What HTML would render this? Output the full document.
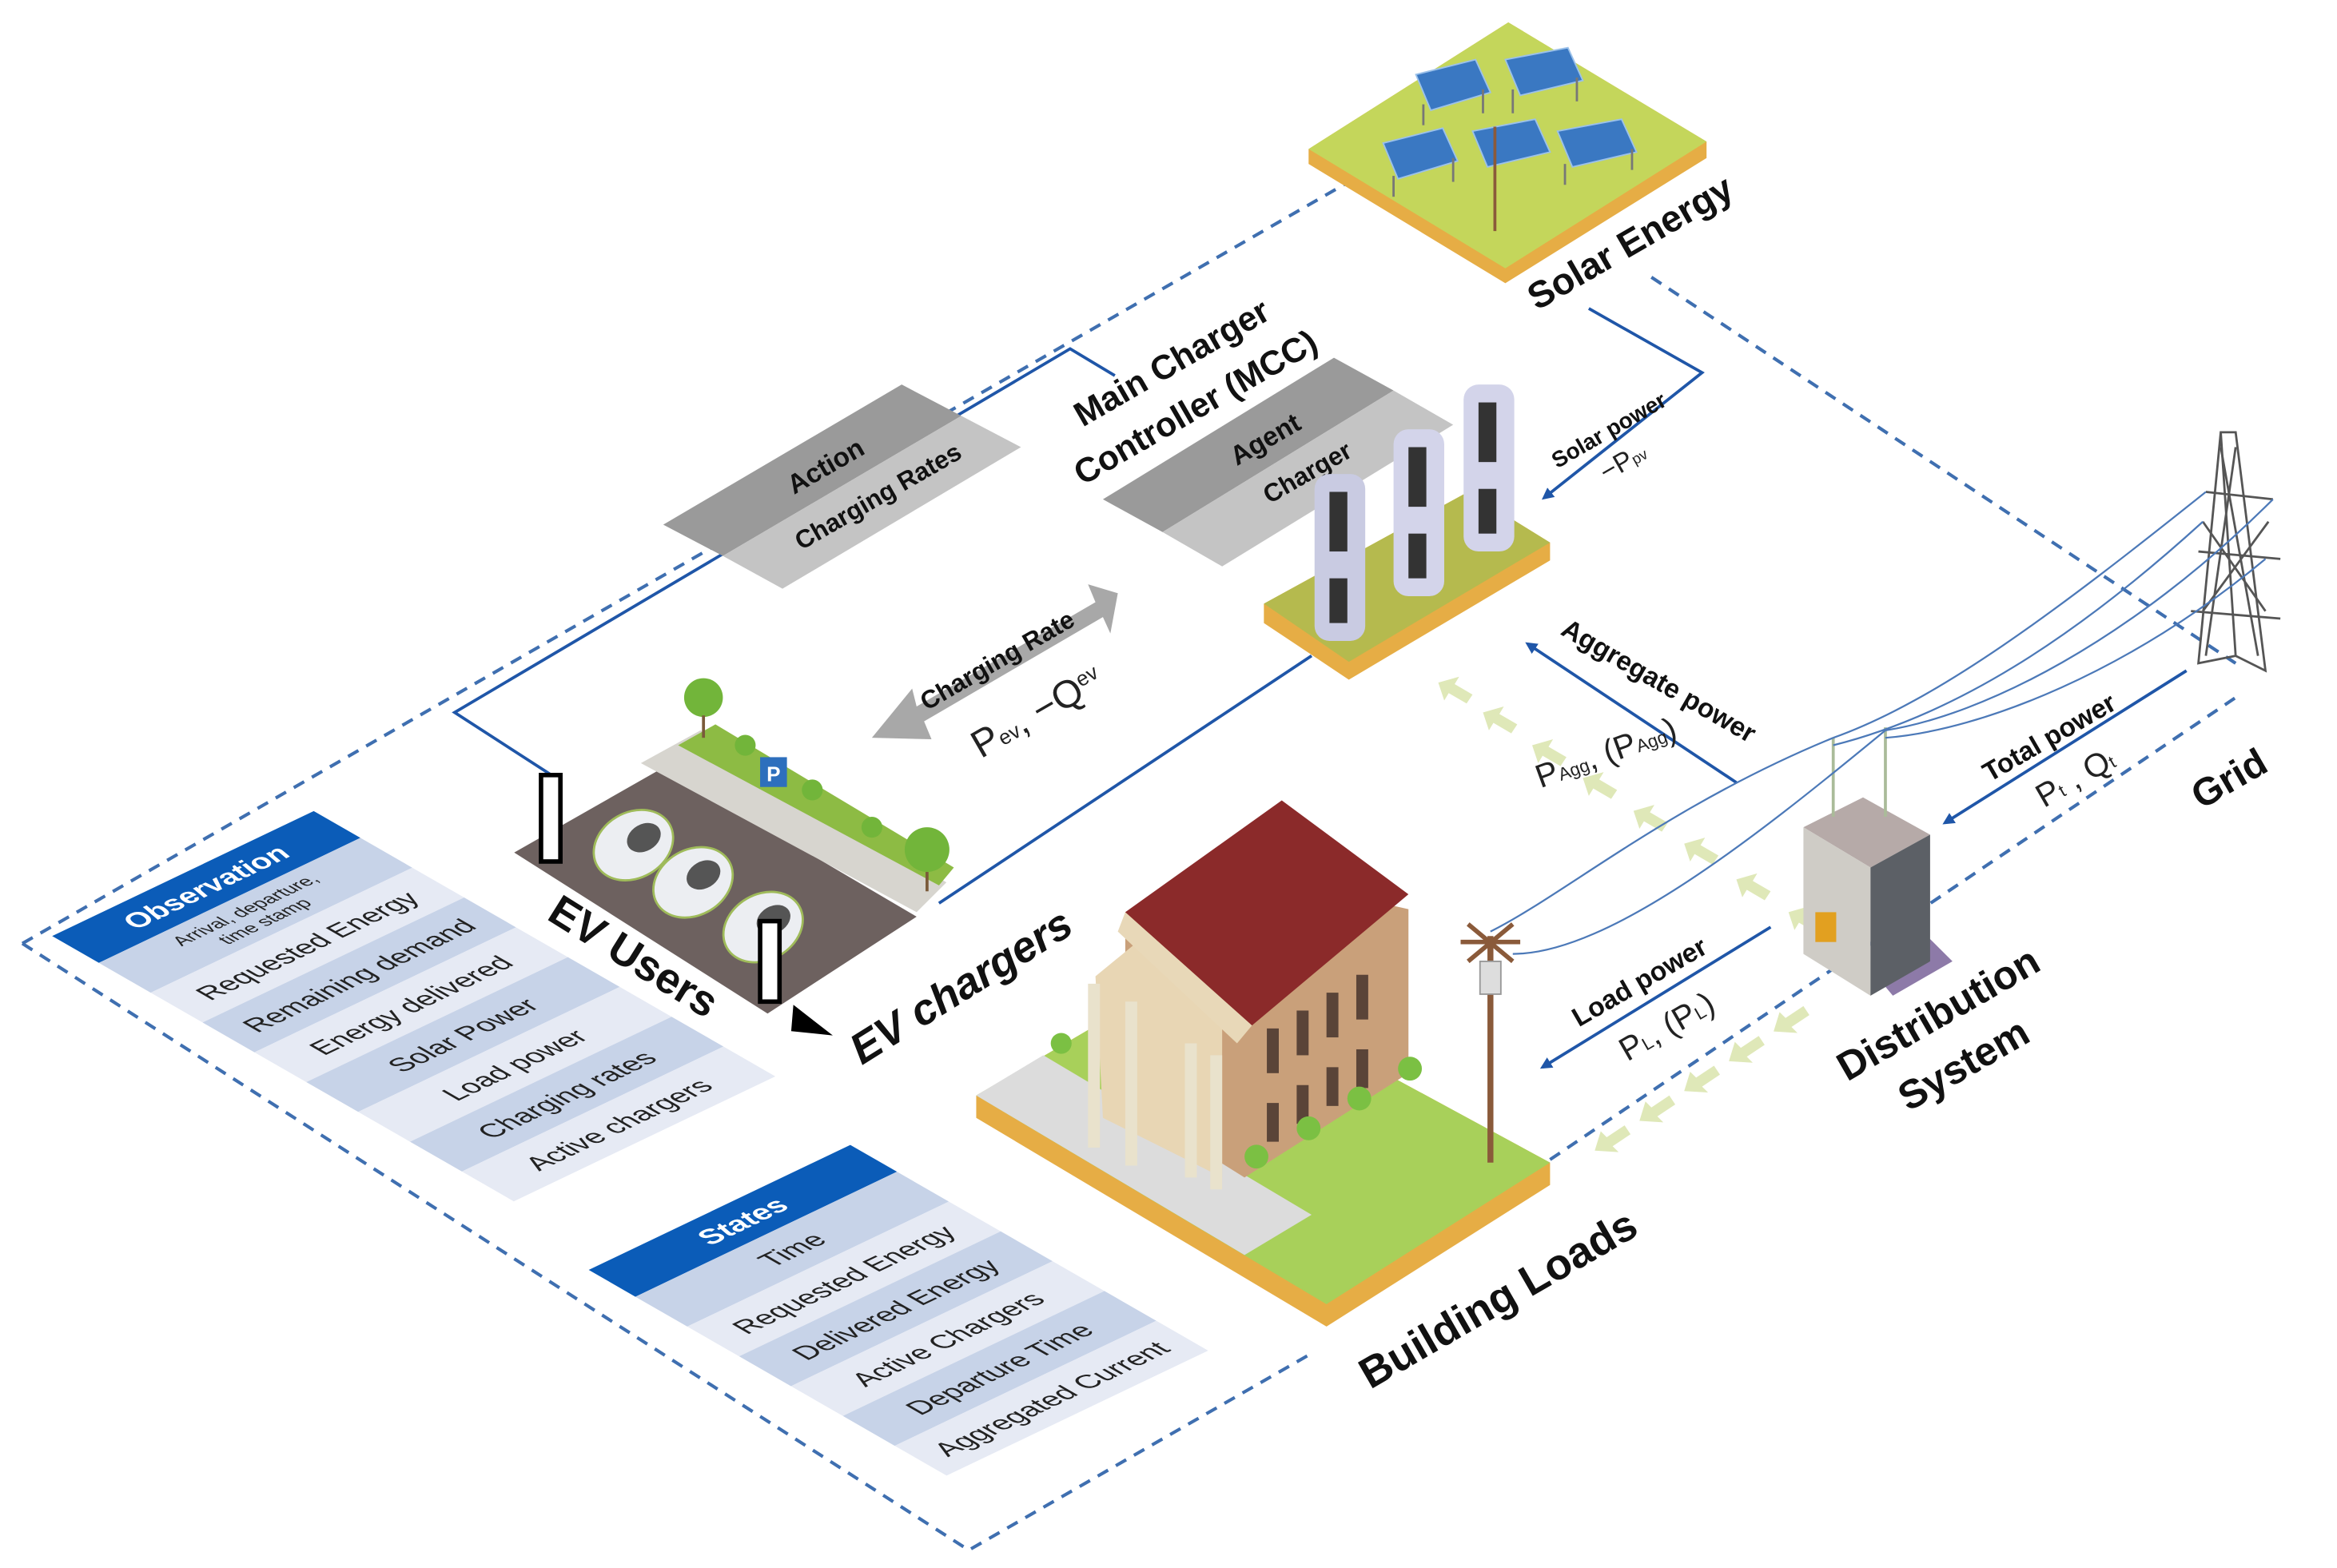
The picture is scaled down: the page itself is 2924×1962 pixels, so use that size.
<!DOCTYPE html>
<html><head><meta charset="utf-8"><style>
html,body{margin:0;padding:0;background:#fff;}
svg{display:block;}
text{font-family:"Liberation Sans",sans-serif;}
.b{font-weight:bold;fill:#111;}
</style></head><body>
<svg width="2924" height="1962" viewBox="0 0 1568 1052" preserveAspectRatio="none" xmlns="http://www.w3.org/2000/svg">
<defs>
<marker id="ah" markerWidth="8" markerHeight="8" refX="6" refY="4" orient="auto" markerUnits="userSpaceOnUse"><path d="M0,0 L8,4 L0,8 z" fill="#1f56a8"/></marker>
</defs>
<rect width="1568" height="1052" fill="#fff"/>

<g fill="none" stroke="#3f6fb0" stroke-width="2.2" stroke-dasharray="8,6">
<path d="M15,633 L905,122"/>
<path d="M1108,186 L1500,445"/>
<path d="M15,633 L650,1040 L880,908"/>
<path d="M1040,778 L1500,468"/>
</g>

<g fill="none" stroke="#1f56a8" stroke-width="2">
<path d="M370,520 L305,478 L718,234 L748,252"/>
<path d="M630,606 L880,440"/>
<path d="M1066,207 L1142,250 L1036,334" marker-end="url(#ah)"/>
<path d="M1165,525 L1025,432" marker-end="url(#ah)"/>
<path d="M1467,450 L1305,552" marker-end="url(#ah)"/>
<path d="M1188,622 L1035,716" marker-end="url(#ah)"/>
</g>

<g fill="#dfe8b8">
<path d="M965,458 l14,-4 l-3,5 l12,7 l-4,6 l-12,-7 l-3,5 z"/>
<path d="M995,478 l14,-4 l-3,5 l12,7 l-4,6 l-12,-7 l-3,5 z"/>
<path d="M1028,500 l14,-4 l-3,5 l12,7 l-4,6 l-12,-7 l-3,5 z"/>
<path d="M1062,522 l14,-4 l-3,5 l12,7 l-4,6 l-12,-7 l-3,5 z"/>
<path d="M1096,544 l14,-4 l-3,5 l12,7 l-4,6 l-12,-7 l-3,5 z"/>
<path d="M1130,566 l14,-4 l-3,5 l12,7 l-4,6 l-12,-7 l-3,5 z"/>
<path d="M1165,590 l14,-4 l-3,5 l12,7 l-4,6 l-12,-7 l-3,5 z"/>
<path d="M1200,612 l14,-4 l-3,5 l12,7 l-4,6 l-12,-7 l-3,5 z"/>
<path d="M1070,772 l4,-13 l4,4 l12,-8 l4,6 l-12,8 l4,4 z"/>
<path d="M1100,752 l4,-13 l4,4 l12,-8 l4,6 l-12,8 l4,4 z"/>
<path d="M1130,732 l4,-13 l4,4 l12,-8 l4,6 l-12,8 l4,4 z"/>
<path d="M1160,712 l4,-13 l4,4 l12,-8 l4,6 l-12,8 l4,4 z"/>
<path d="M1190,692 l4,-13 l4,4 l12,-8 l4,6 l-12,8 l4,4 z"/>
</g>

<polygon points="878,100 1012,15 1145,95 1145,106 1010,190 878,110" fill="#e6ad45"/>
<polygon points="878,100 1012,15 1145,95 1010,180" fill="#c4d65b"/>
<g fill="#3a78c2" stroke="#9bc1ea" stroke-width="1">
<polygon points="950,50 990,40 1000,62 960,74"/>
<polygon points="1010,40 1052,32 1062,54 1020,64"/>
<polygon points="928,96 968,86 978,108 938,120"/>
<polygon points="988,88 1030,80 1040,102 998,112"/>
<polygon points="1045,88 1088,80 1098,102 1055,112"/>
</g>
<g stroke="#777" stroke-width="1.5">
<line x1="955" y1="70" x2="955" y2="84"/><line x1="995" y1="60" x2="995" y2="76"/>
<line x1="1015" y1="60" x2="1015" y2="76"/><line x1="1058" y1="52" x2="1058" y2="68"/>
<line x1="935" y1="118" x2="935" y2="132"/><line x1="975" y1="106" x2="975" y2="122"/>
<line x1="1050" y1="110" x2="1050" y2="124"/><line x1="1095" y1="100" x2="1095" y2="114"/>
</g>
<line x1="1003" y1="85" x2="1003" y2="155" stroke="#8a5a3a" stroke-width="2"/>

<polygon points="445,352 605,258 645,279 485,373" fill="#9a9a9a"/>
<polygon points="485,373 645,279 685,300 525,395" fill="#c4c4c4"/>
<polygon points="740,335 895,240 935,262 780,357" fill="#9a9a9a"/>
<polygon points="780,357 935,262 975,285 820,380" fill="#c4c4c4"/>
<text class="b" font-size="18" transform="translate(557,318) rotate(-30)" text-anchor="middle" fill="#222">Action</text>
<text class="b" font-size="17" transform="translate(592,338) rotate(-30)" text-anchor="middle" fill="#333">Charging Rates</text>
<text class="b" font-size="18" transform="translate(852,300) rotate(-30)" text-anchor="middle" fill="#222">Agent</text>
<text class="b" font-size="17" transform="translate(880,322) rotate(-30)" text-anchor="middle" fill="#333">Charger</text>

<polygon points="848,405 985,330 1040,364 1040,376 905,456 848,418" fill="#e6ad45"/>
<polygon points="848,405 985,330 1040,364 905,444" fill="#b5ba4e"/>
<g>
<rect x="882" y="318" width="34" height="112" rx="10" fill="#c9cbe2"/><rect x="892" y="330" width="12" height="40" fill="#333"/><rect x="892" y="388" width="12" height="30" fill="#333"/>
<rect x="935" y="288" width="34" height="112" rx="10" fill="#d3d4ea"/><rect x="945" y="300" width="12" height="40" fill="#333"/><rect x="945" y="358" width="12" height="30" fill="#333"/>
<rect x="982" y="258" width="34" height="112" rx="10" fill="#d3d4ea"/><rect x="992" y="270" width="12" height="40" fill="#333"/><rect x="992" y="328" width="12" height="30" fill="#333"/>
</g>

<polygon points="585,495 612,462 615,474 735,404 730,392 750,398 745,425 740,414 620,484 625,496" fill="#a8a8a8"/>
<text class="b" font-size="17" transform="translate(672,448) rotate(-30)" text-anchor="middle" fill="#333">Charging Rate</text>
<text font-size="26" transform="translate(700,485) rotate(-30)" text-anchor="middle" fill="#222">P<tspan font-size="14">ev</tspan>, −Q<tspan font-size="14" dy="-8">ev</tspan></text>

<polygon points="345,572 445,515 615,615 515,680" fill="#6d615f"/>
<polygon points="430,512 470,490 635,592 615,612" fill="#d7d5cf"/>
<polygon points="455,500 480,486 640,582 630,594" fill="#8dbb44"/>
<g fill="#72b53a"><circle cx="472" cy="468" r="13"/><circle cx="500" cy="500" r="7"/><circle cx="545" cy="530" r="7"/><circle cx="585" cy="555" r="7"/><circle cx="622" cy="570" r="15"/></g>
<g stroke="#7a5a3a" stroke-width="2"><line x1="472" y1="480" x2="472" y2="495"/><line x1="622" y1="585" x2="622" y2="598"/></g>
<rect x="510" y="508" width="18" height="20" fill="#2d6fbd"/><text x="519" y="524" font-size="14" font-weight="bold" fill="#fff" text-anchor="middle">P</text>
<g fill="#eceef2" stroke="#9fbb5a" stroke-width="1.5">
<ellipse cx="425" cy="567" rx="28" ry="22" transform="rotate(-30 425 567)"/>
<ellipse cx="465" cy="592" rx="28" ry="22" transform="rotate(-30 465 592)"/>
<ellipse cx="512" cy="622" rx="28" ry="22" transform="rotate(-30 512 622)"/>
</g>
<g fill="#555"><ellipse cx="432" cy="562" rx="12" ry="9" transform="rotate(-30 432 562)"/><ellipse cx="472" cy="587" rx="12" ry="9" transform="rotate(-30 472 587)"/><ellipse cx="519" cy="617" rx="12" ry="9" transform="rotate(-30 519 617)"/></g>
<rect x="363" y="520" width="13" height="58" fill="#fff" stroke="#000" stroke-width="3"/>
<rect x="510" y="618" width="13" height="54" fill="#fff" stroke="#000" stroke-width="3"/>
<path d="M552,692 L534,678 L533,690 z M550,691 L538,684" stroke="#000" stroke-width="4" fill="#000"/>

<polygon points="655,735 800,650 1040,780 1040,795 890,890 655,750" fill="#e6ad45"/>
<polygon points="655,735 800,650 1040,780 890,875" fill="#a8d05a"/>
<polygon points="655,735 700,708 880,815 835,842" fill="#dcdcdc"/>
<polygon points="755,612 812,580 945,610 945,720 835,790 755,740" fill="#c9a07a"/>
<polygon points="735,655 790,610 820,690 820,790 740,750" fill="#e8d6b4"/>
<g fill="#5a4438"><rect x="850" y="640" width="8" height="14"/><rect x="870" y="628" width="8" height="14"/><rect x="890" y="616" width="8" height="14"/><rect x="910" y="604" width="8" height="14"/><rect x="850" y="690" width="8" height="30"/><rect x="870" y="678" width="8" height="30"/><rect x="890" y="666" width="8" height="30"/><rect x="910" y="654" width="8" height="30"/><rect x="850" y="740" width="8" height="26"/><rect x="870" y="728" width="8" height="26"/><rect x="890" y="716" width="8" height="26"/><rect x="910" y="704" width="8" height="26"/></g>
<polygon points="755,612 860,537 945,600 840,688" fill="#8b2a2a"/>
<polygon points="755,612 840,688 830,700 750,625" fill="#e8d8b8"/>
<g fill="#e9e2cc"><rect x="730" y="660" width="8" height="110"/><rect x="755" y="672" width="8" height="110"/><rect x="795" y="700" width="8" height="90"/><rect x="812" y="708" width="8" height="90"/></g>
<g fill="#7bc043"><circle cx="712" cy="700" r="7"/><circle cx="843" cy="776" r="8"/><circle cx="878" cy="757" r="8"/><circle cx="912" cy="737" r="8"/><circle cx="946" cy="717" r="8"/></g>

<line x1="1000" y1="628" x2="1000" y2="780" stroke="#8a5a3a" stroke-width="4"/>
<path d="M985,620 L1015,645 M1015,620 L985,645 M980,632 L1020,632" stroke="#8a5a3a" stroke-width="3"/>
<rect x="993" y="645" width="14" height="22" fill="#ddd" stroke="#999"/>

<polygon points="1270,668 1310,645 1295,630 1255,650" fill="#8d7aa8"/>
<polygon points="1210,555 1250,535 1295,560 1255,582" fill="#b6aaa8"/>
<polygon points="1210,555 1255,582 1255,668 1210,640" fill="#cfccc6"/>
<polygon points="1255,582 1295,560 1295,645 1255,668" fill="#5c6066"/>
<rect x="1218" y="612" width="14" height="20" fill="#e2a020"/>
<line x1="1230" y1="495" x2="1230" y2="548" stroke="#ab9" stroke-width="2"/>
<line x1="1265" y1="488" x2="1265" y2="548" stroke="#ab9" stroke-width="2"/>

<g stroke="#555" stroke-width="1.5" fill="none">
<path d="M1490,290 L1500,440 L1475,445 L1490,290 L1500,290 L1520,450 L1500,440"/>
<path d="M1480,330 L1525,335 M1475,370 L1530,375 M1470,410 L1530,415"/>
<path d="M1490,300 L1515,440 M1500,300 L1480,440 M1478,350 L1520,410 M1522,350 L1478,410"/>
</g>
<g stroke="#4c79b8" stroke-width="1.2" fill="none">
<path d="M1480,330 C1380,410 1300,470 1230,495"/>
<path d="M1478,350 C1390,430 1310,480 1230,500"/>
<path d="M1525,335 C1430,430 1330,480 1265,490"/>
<path d="M1520,375 C1430,450 1330,490 1265,495"/>
<path d="M1230,495 C1120,540 1050,600 1000,625"/>
<path d="M1265,490 C1180,560 1080,640 1015,640"/>
</g>

<g transform="matrix(0.9,-0.43,0.87,0.5,35,628)">
<rect x="0" y="0" width="195" height="36" fill="#0b5cb8"/>
<rect x="0" y="36" width="195" height="40" fill="#c7d3e8"/>
<rect x="0" y="76" width="195" height="40" fill="#e6eaf4"/>
<rect x="0" y="116" width="195" height="40" fill="#c7d3e8"/>
<rect x="0" y="156" width="195" height="40" fill="#e6eaf4"/>
<rect x="0" y="196" width="195" height="40" fill="#c7d3e8"/>
<rect x="0" y="236" width="195" height="40" fill="#e6eaf4"/>
<rect x="0" y="276" width="195" height="40" fill="#c7d3e8"/>
<rect x="0" y="316" width="195" height="40" fill="#e6eaf4"/>
<g text-anchor="middle" fill="#222" font-size="19">
<text x="97" y="25" fill="#fff" font-weight="bold" font-style="italic" font-size="20">Observation</text>
<text x="97" y="53" font-size="13">Arrival, departure,</text>
<text x="97" y="68" font-size="13">time stamp</text>
<text x="97" y="103">Requested Energy</text>
<text x="97" y="143">Remaining demand</text>
<text x="97" y="183">Energy delivered</text>
<text x="97" y="223">Solar Power</text>
<text x="97" y="263">Load power</text>
<text x="97" y="303">Charging rates</text>
<text x="97" y="343">Active chargers</text>
</g></g>

<g transform="matrix(0.9,-0.43,0.87,0.5,395,852)">
<rect x="0" y="0" width="195" height="36" fill="#0b5cb8"/>
<rect x="0" y="36" width="195" height="40" fill="#c7d3e8"/>
<rect x="0" y="76" width="195" height="40" fill="#e6eaf4"/>
<rect x="0" y="116" width="195" height="40" fill="#c7d3e8"/>
<rect x="0" y="156" width="195" height="40" fill="#e6eaf4"/>
<rect x="0" y="196" width="195" height="40" fill="#c7d3e8"/>
<rect x="0" y="236" width="195" height="40" fill="#e6eaf4"/>
<g text-anchor="middle" fill="#222" font-size="19">
<text x="97" y="25" fill="#fff" font-weight="bold" font-style="italic" font-size="20">States</text>
<text x="97" y="63">Time</text>
<text x="97" y="103">Requested Energy</text>
<text x="97" y="143">Delivered Energy</text>
<text x="97" y="183">Active Chargers</text>
<text x="97" y="223">Departure Time</text>
<text x="97" y="263">Aggregated Current</text>
</g></g>

<text class="b" font-size="23" transform="translate(790,250) rotate(-30)" text-anchor="middle">Main Charger</text>
<text class="b" font-size="23" transform="translate(806,280) rotate(-30)" text-anchor="middle">Controller (MCC)</text>
<text class="b" font-size="25" transform="translate(1098,170) rotate(-30)" text-anchor="middle">Solar Energy</text>
<text class="b" font-size="15" transform="translate(1082,293) rotate(-30)" text-anchor="middle">Solar power</text>
<text font-size="18" transform="translate(1092,315) rotate(-30)" text-anchor="middle" fill="#222">−P<tspan font-size="10">pv</tspan></text>
<text class="b" font-size="18" transform="translate(1110,462) rotate(30)" text-anchor="middle">Aggregate power</text>
<text font-size="22" transform="translate(1080,512) rotate(-20)" text-anchor="middle" fill="#222">P<tspan font-size="12">Agg</tspan>, (P<tspan font-size="12">Agg</tspan>)</text>
<text class="b" font-size="18" transform="translate(1378,500) rotate(-30)" text-anchor="middle">Total power</text>
<text font-size="22" transform="translate(1396,528) rotate(-30)" text-anchor="middle" fill="#222">P<tspan font-size="12">t</tspan> , Q<tspan font-size="12">t</tspan></text>
<text class="b" font-size="26" transform="translate(1500,530) rotate(-30)" text-anchor="middle">Grid</text>
<text class="b" font-size="18" transform="translate(1103,664) rotate(-30)" text-anchor="middle">Load power</text>
<text font-size="22" transform="translate(1122,695) rotate(-30)" text-anchor="middle" fill="#222">P<tspan font-size="12">L</tspan>, (P<tspan font-size="12">L</tspan>)</text>
<text class="b" font-size="27" transform="translate(1305,688) rotate(-30)" text-anchor="middle">Distribution</text>
<text class="b" font-size="27" transform="translate(1322,722) rotate(-30)" text-anchor="middle">System</text>
<text class="b" font-size="29" transform="translate(1010,880) rotate(-30)" text-anchor="middle">Building Loads</text>
<text class="b" font-size="29" transform="translate(420,650) rotate(32)" text-anchor="middle">EV Users</text>
<text class="b" font-size="29" font-style="italic" transform="translate(650,670) rotate(-32)" text-anchor="middle">EV chargers</text>
</svg>
</body></html>
